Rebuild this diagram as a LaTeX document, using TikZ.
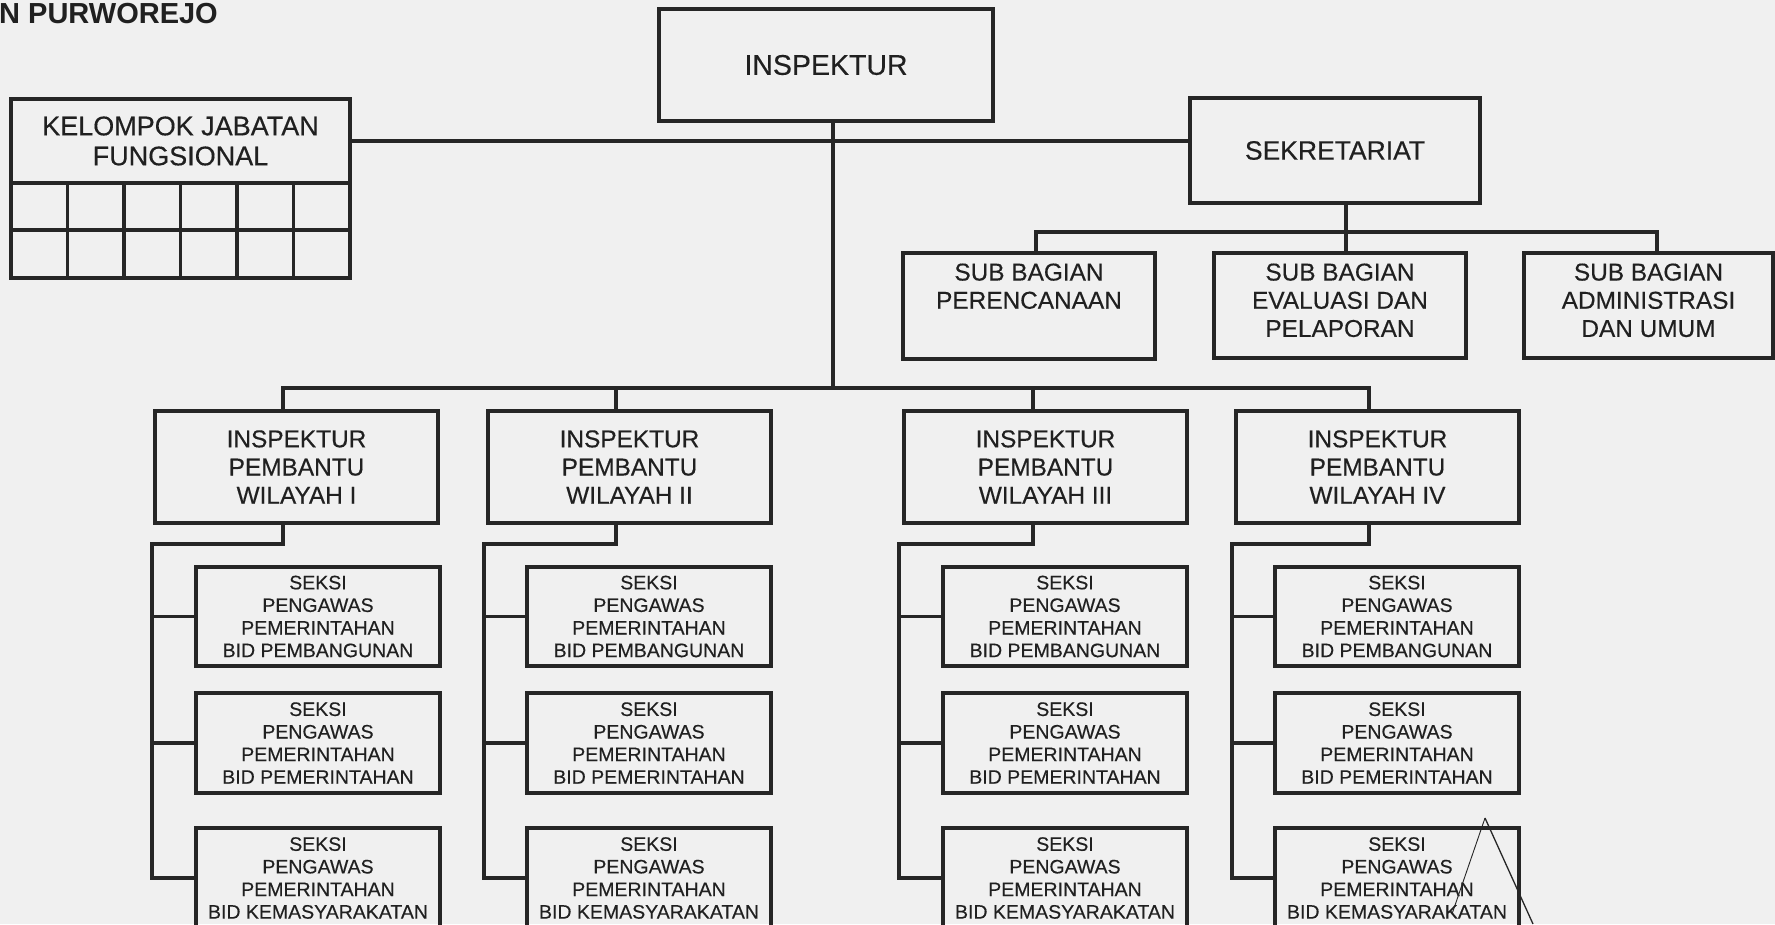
\documentclass[tikz,border=0pt]{standalone}
\usepackage{fontspec}
\setmainfont{Liberation Sans}[FakeBold=0.35]
\newfontfamily\titlefont{Liberation Sans Bold}
\definecolor{bg}{RGB}{240,240,240}
\definecolor{ink}{RGB}{38,38,38}
\definecolor{txt}{RGB}{32,32,32}
\begin{document}
\begin{tikzpicture}[x=1pt,y=-1pt,
  box/.style={draw=ink, line width=3.2pt, rectangle, outer sep=0pt, inner sep=0pt, align=center, text=txt},
  conn/.style={draw=ink, line width=3.2pt},
  fbig/.style={font=\fontsize{28.5pt}{32pt}\selectfont},
  fsek/.style={font=\fontsize{26.5pt}{30pt}\selectfont},
  fkjf/.style={font=\fontsize{27pt}{30pt}\selectfont},
  fmid/.style={font=\fontsize{24.4pt}{28.2pt}\selectfont},
  fsmall/.style={font=\fontsize{19.5pt}{22.6pt}\selectfont},
  sbl/.style={anchor=north, yshift=-10.3pt, inner sep=0pt, align=center, text=txt, fmid},
  ipwbox/.style={box, fmid, minimum width=283pt, minimum height=112pt},
  seksibox/.style={box, fsmall, minimum width=244pt, minimum height=99pt},
  sbbox/.style={box, minimum height=105pt}]
\useasboundingbox (0,0) rectangle (1775,924);
\fill[bg] (0,0) rectangle (1775,924);

% title
\node[anchor=base west, inner sep=0pt, text=txt, font=\titlefont\fontsize{29pt}{30pt}\selectfont] (title) at (-1,23) {N PURWOREJO};

% top level
\node[box, fbig, minimum width=334pt, minimum height=112pt] (insp) at (826,65) {INSPEKTUR};
\node[box, fkjf, minimum width=339pt, minimum height=84pt] (kjfh) at (180.5,141) {KELOMPOK JABATAN\\FUNGSIONAL};
\node[box, fsek, minimum width=290pt, minimum height=105pt] (sek) at (1335,150.5) {SEKRETARIAT};

% KJF grid
\draw[conn] (11,183) rectangle (350,278);
\draw[conn] (11,230) -- (350,230);
\foreach \i in {1,...,5} \draw[conn] ({11+56.5*\i},183) -- ({11+56.5*\i},278);

% sub bagian
\node[sbbox, minimum width=252pt, minimum height=106pt, label={[sbl]north:{SUB BAGIAN\\PERENCANAAN}}] (sbp) at (1029,306) {};
\node[sbbox, minimum width=252pt, label={[sbl]north:{SUB BAGIAN\\EVALUASI DAN\\PELAPORAN}}] (sbe) at (1340,305.5) {};
\node[sbbox, minimum width=249pt, label={[sbl]north:{SUB BAGIAN\\ADMINISTRASI\\DAN UMUM}}] (sba) at (1648.5,305.5) {};

% connectors top
\draw[conn] (kjfh.east) -- (kjfh.east -| sek.west);
\coordinate (j0) at (833,388);
\draw[conn] (insp.south -| j0) -- (j0);
\coordinate (sj) at (1346,232);
\coordinate (sp) at (1036,232);
\coordinate (sa) at (1657,232);
\draw[conn] (sek.south -| sj) -- (sbe.north -| sj);
\draw[conn] (sbp.north -| sp) -- (sp) -- (sa) -- (sba.north -| sa);

% columns
\foreach \k/\bx/\sx/\tx/\vx/\rn in {1/296.5/318/283/152/I, 2/629.5/649/616/484/II, 3/1045.5/1065/1033/899/III, 4/1377.5/1397/1369/1232/IV}{
  \node[ipwbox] (ipw\k) at (\bx,467) {INSPEKTUR\\PEMBANTU\\WILAYAH \rn};
  \node[seksibox] (s\k a) at (\sx,616.5) {SEKSI\\PENGAWAS\\PEMERINTAHAN\\BID PEMBANGUNAN};
  \node[seksibox, minimum height=100pt] (s\k b) at (\sx,743) {SEKSI\\PENGAWAS\\PEMERINTAHAN\\BID PEMERINTAHAN};
  \node[seksibox, minimum height=100pt] (s\k c) at (\sx,878) {SEKSI\\PENGAWAS\\PEMERINTAHAN\\BID KEMASYARAKATAN};
  \coordinate (t\k) at (\tx,544);
  \coordinate (v\k) at (\vx,544);
  \draw[conn] (ipw\k.south -| t\k) -- (t\k) -- (v\k) -- (v\k |- s\k c.west) -- (s\k c.west);
  \draw[conn] (v\k |- s\k a.west) -- (s\k a.west);
  \draw[conn] (v\k |- s\k b.west) -- (s\k b.west);
}

% main bus
\draw[conn] (ipw1.north -| t1) -- (t1 |- j0) -- (t4 |- j0) -- (ipw4.north -| t4);
\draw[conn] (t2 |- j0) -- (ipw2.north -| t2);
\draw[conn] (t3 |- j0) -- (ipw3.north -| t3);

% pen mark
\draw[ink, line width=0.9pt] (1452,914) -- (1485,818);
\draw[ink, line width=1.3pt] (1485,818) -- (1533,924);
\end{tikzpicture}
\end{document}
